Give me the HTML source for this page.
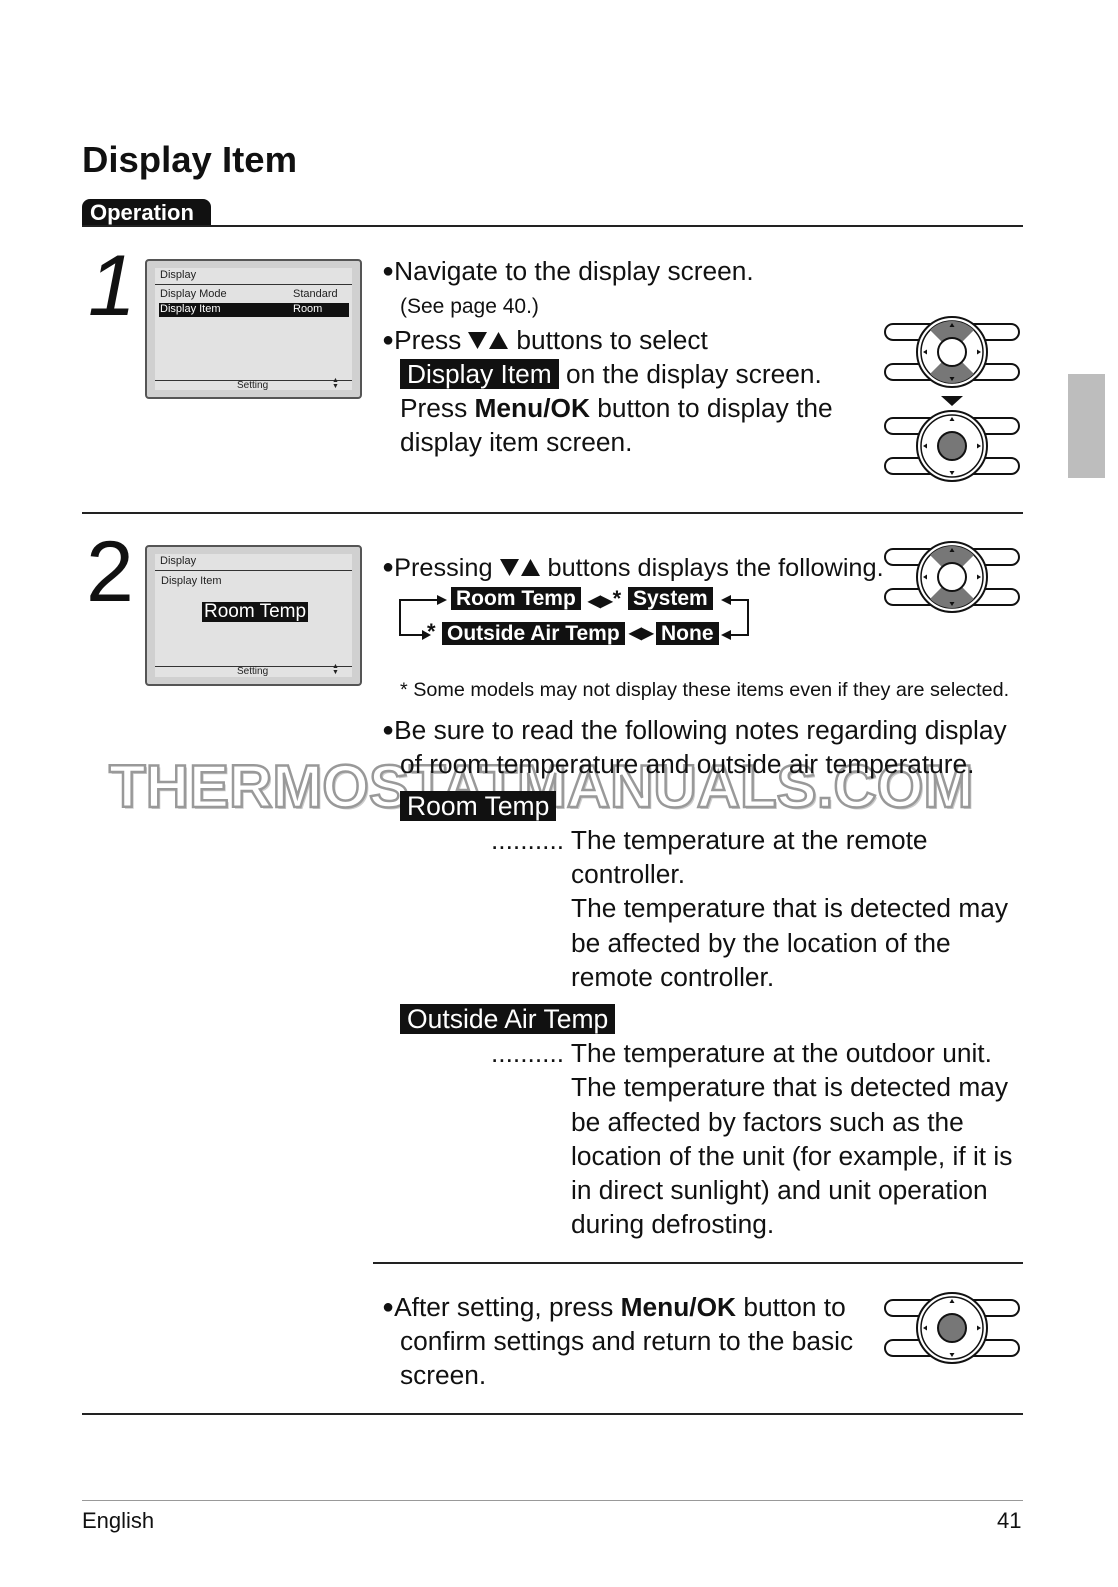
<!DOCTYPE html>
<html><head><meta charset="utf-8"><style>
*{margin:0;padding:0;box-sizing:border-box}
body{width:1118px;height:1587px;background:#fff;position:relative;font-family:"Liberation Sans",sans-serif;color:#111;overflow:hidden}
.a{position:absolute;white-space:nowrap}
.t{font-size:26.3px;line-height:34px}
.hl{background:#111;color:#fff;padding:0 7px}
.hb{background:#111;color:#fff;font-weight:bold;padding:0 5px}
.line{position:absolute;background:#222}
.lcd{position:absolute;border:2px solid #555;border-radius:4px;background:#d0d0d0}
.lcd .in{position:absolute;left:8px;top:7px;right:8px;bottom:7px;background:#e2e2e2}
.s{font-size:11px;position:absolute;white-space:nowrap;color:#222}
.b{font-size:20px;vertical-align:3px}
.tri{display:inline-block;width:42px;height:19px;vertical-align:-1px;margin:0 7px 0 6px}
</style></head><body>

<div class="a" style="left:82px;top:139px;font-size:36.5px;font-weight:bold;">Display Item</div>
<div class="a" style="left:82px;top:199px;width:129px;height:28px;background:#111;border-radius:8px 8px 0 0;color:#fff;font-weight:bold;font-size:22px;line-height:28px;padding-left:8px">Operation</div>
<div class="line" style="left:82px;top:225px;width:941px;height:2px"></div>

<div class="a" style="left:1068px;top:374px;width:37px;height:104px;background:#bdbdbd"></div>

<div class="a" style="left:88px;top:236px;font-size:86px;font-style:italic;line-height:100px">1</div>
<div class="a" style="left:86px;top:522px;font-size:86px;line-height:100px">2</div>

<!-- LCD 1 -->
<div class="lcd" style="left:145px;top:259px;width:217px;height:140px"><div class="in">
<div class="s" style="left:5px;top:1px">Display</div>
<div style="position:absolute;left:0;right:0;top:16px;height:1px;background:#333"></div>
<div class="s" style="left:5px;top:20px">Display Mode</div><div class="s" style="left:138px;top:20px">Standard</div>
<div style="position:absolute;left:4px;right:3px;top:35px;height:14px;background:#111"></div>
<div class="s" style="left:5px;top:35px;color:#fff">Display Item</div><div class="s" style="left:138px;top:35px;color:#fff">Room</div>
<div style="position:absolute;left:0;right:0;top:112px;height:1px;background:#333"></div>
<div class="s" style="left:82px;top:112px;font-size:10px">Setting</div><div class="s" style="left:177px;top:110px;font-size:7px;line-height:6px">▲<br>▼</div>
</div></div>

<!-- LCD 2 -->
<div class="lcd" style="left:145px;top:545px;width:217px;height:141px"><div class="in">
<div class="s" style="left:5px;top:1px">Display</div>
<div style="position:absolute;left:0;right:0;top:16px;height:1px;background:#333"></div>
<div class="s" style="left:6px;top:21px">Display Item</div>
<div class="s" style="left:47px;top:48px;font-size:19px;background:#111;color:#fff;padding:0 2px;line-height:20px">Room Temp</div>
<div style="position:absolute;left:0;right:0;top:112px;height:1px;background:#333"></div>
<div class="s" style="left:82px;top:112px;font-size:10px">Setting</div><div class="s" style="left:177px;top:110px;font-size:7px;line-height:6px">▲<br>▼</div>
</div></div>

<!-- step 1 text -->
<div class="a t" style="left:382px;top:254px"><span class="b">●</span>Navigate to the display screen.</div>
<div class="a" style="left:400px;top:295px;font-size:21px">(See page 40.)</div>
<div class="a t" style="left:382px;top:323px"><span class="b">●</span>Press<svg class="tri" viewBox="0 0 42 19"><polygon points="1,1 20,1 10.5,18" fill="#111"/><polygon points="22,18 41,18 31.5,1" fill="#111"/></svg>buttons to select</div>
<div class="a t" style="left:400px;top:357px"><span class="hl">Display Item</span> on the display screen.</div>
<div class="a t" style="left:400px;top:391px">Press <b>Menu/OK</b> button to display the</div>
<div class="a t" style="left:400px;top:425px">display item screen.</div>

<div class="line" style="left:82px;top:512px;width:941px;height:2px"></div>

<!-- step 2 text -->
<div class="a t" style="left:382px;top:550px;font-size:25.3px"><span class="b">●</span>Pressing<svg class="tri" viewBox="0 0 42 19"><polygon points="1,1 20,1 10.5,18" fill="#111"/><polygon points="22,18 41,18 31.5,1" fill="#111"/></svg>buttons displays the following.</div>
<div class="a" style="left:451px;top:587px;font-size:21px;line-height:24px"><span class="hb">Room Temp</span></div>
<div class="a" style="left:588px;top:587px;font-size:16px;line-height:24px;font-weight:bold">◀▶<span style="font-size:22px">*</span></div>
<div class="a" style="left:628px;top:587px;font-size:21px;line-height:24px"><span class="hb">System</span></div>
<div class="a" style="left:427px;top:620px;font-size:22px;line-height:24px;font-weight:bold">*</div>
<div class="a" style="left:442px;top:622px;font-size:21px;line-height:24px"><span class="hb">Outside Air Temp</span></div>
<div class="a" style="left:629px;top:622px;font-size:16px;line-height:24px;font-weight:bold">◀▶</div>
<div class="a" style="left:656px;top:622px;font-size:21px;line-height:24px"><span class="hb">None</span></div>
<svg class="a" style="left:395px;top:590px" width="360" height="56">
<g fill="none" stroke="#111" stroke-width="2">
<polyline points="42,10 5,10 5,45 28,45"/>
<polyline points="330,10 353,10 353,45 335,45"/>
</g>
<g fill="#111"><polygon points="52,10 42,5 42,15"/><polygon points="36,45 27,40 27,50"/>
<polygon points="326,10 336,5 336,15"/><polygon points="326,45 336,40 336,50"/></g>
</svg>
<div class="a" style="left:400px;top:679px;font-size:19.8px">* Some models may not display these items even if they are selected.</div>

<!-- watermark -->
<div class="a" style="left:109px;top:752px;font-size:60px;font-weight:bold;color:#fff;-webkit-text-stroke:2.5px #999;text-shadow:2px 2px 0 #ccc">THERMOSTATMANUALS.COM</div>

<div class="a t" style="left:382px;top:713px"><span class="b">●</span>Be sure to read the following notes regarding display</div>
<div class="a t" style="left:400px;top:747px">of room temperature and outside air temperature.</div>
<div class="a t" style="left:400px;top:789px;font-size:26.5px"><span class="hl">Room Temp</span></div>
<div class="a t" style="left:491px;top:823px">.......... The temperature at the remote</div>
<div class="a t" style="left:571px;top:857px">controller.</div>
<div class="a t" style="left:571px;top:891px">The temperature that is detected may</div>
<div class="a t" style="left:571px;top:926px">be affected by the location of the</div>
<div class="a t" style="left:571px;top:960px">remote controller.</div>
<div class="a t" style="left:400px;top:1002px;font-size:26.5px"><span class="hl">Outside Air Temp</span></div>
<div class="a t" style="left:491px;top:1036px">.......... The temperature at the outdoor unit.</div>
<div class="a t" style="left:571px;top:1070px">The temperature that is detected may</div>
<div class="a t" style="left:571px;top:1105px">be affected by factors such as the</div>
<div class="a t" style="left:571px;top:1139px">location of the unit (for example, if it is</div>
<div class="a t" style="left:571px;top:1173px">in direct sunlight) and unit operation</div>
<div class="a t" style="left:571px;top:1207px">during defrosting.</div>

<div class="line" style="left:373px;top:1262px;width:650px;height:2px"></div>

<div class="a t" style="left:382px;top:1290px"><span class="b">●</span>After setting, press <b>Menu/OK</b> button to</div>
<div class="a t" style="left:400px;top:1324px">confirm settings and return to the basic</div>
<div class="a t" style="left:400px;top:1358px">screen.</div>

<div class="line" style="left:82px;top:1413px;width:941px;height:2px"></div>
<div class="line" style="left:82px;top:1500px;width:941px;height:1px;background:#999"></div>
<div class="a" style="left:82px;top:1508px;font-size:22px">English</div>
<div class="a" style="left:997px;top:1508px;font-size:22px">41</div>

<!-- controllers -->
<svg class="a" style="left:0;top:0" width="1118" height="1587">
<defs>
<g id="pills" fill="#fff" stroke="#111" stroke-width="2">
<rect x="-67" y="-28" width="56" height="16" rx="8"/><rect x="-67" y="12" width="56" height="16" rx="8"/>
<rect x="11" y="-28" width="56" height="16" rx="8"/><rect x="11" y="12" width="56" height="16" rx="8"/>
</g>
<g id="ring"><circle r="35" fill="#fff" stroke="#111" stroke-width="2"/><circle r="31" fill="#fff" stroke="#111" stroke-width="1.5"/></g>
<g id="tris" fill="#111"><polygon points="0,-29 -2.5,-25 2.5,-25"/><polygon points="0,29 -2.5,25 2.5,25"/><polygon points="-29,0 -25,-2.5 -25,2.5"/><polygon points="29,0 25,-2.5 25,2.5"/></g>
<g id="ctrlA"><use href="#pills"/><use href="#ring"/>
<path d="M-21.9,-21.9 A31,31 0 0 1 21.9,-21.9 L9.9,-9.9 A14,14 0 0 0 -9.9,-9.9 Z" fill="#777"/>
<path d="M-21.9,21.9 A31,31 0 0 0 21.9,21.9 L9.9,9.9 A14,14 0 0 1 -9.9,9.9 Z" fill="#777"/>
<circle r="14" fill="#fff" stroke="#111" stroke-width="2"/><use href="#tris"/></g>
<g id="ctrlB"><use href="#pills"/><use href="#ring"/><circle r="14" fill="#777" stroke="#111" stroke-width="2"/><use href="#tris"/></g>
</defs>
<use href="#ctrlA" x="952" y="352"/>
<polygon points="941,396 963,396 952,406" fill="#111"/>
<use href="#ctrlB" x="952" y="446"/>
<use href="#ctrlA" x="952" y="577"/>
<use href="#ctrlB" x="952" y="1328"/>
</svg>
</body></html>
